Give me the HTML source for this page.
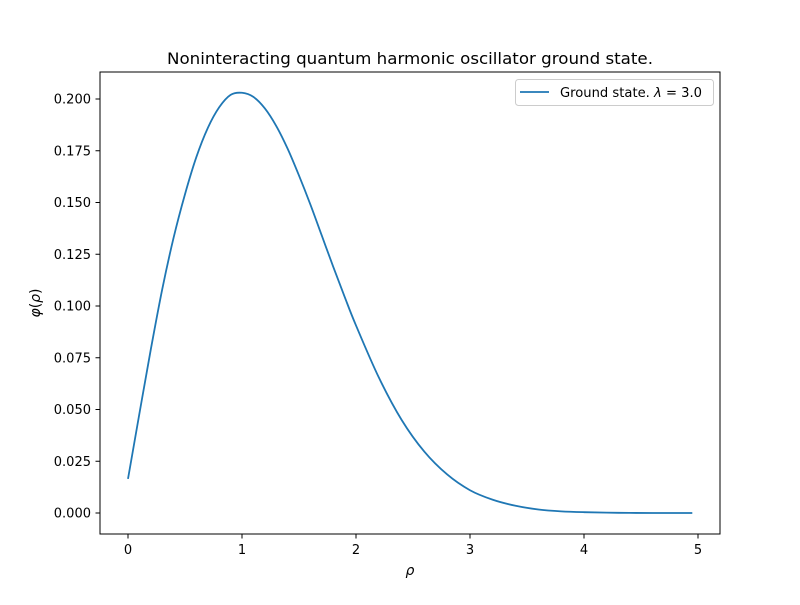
<!DOCTYPE html>
<html><head><meta charset="utf-8"><style>
body{margin:0;background:#fff;}
svg text{font-family:"DejaVu Sans","Liberation Sans",sans-serif;}
</style></head><body>
<svg id="chart" width="800" height="600" xmlns="http://www.w3.org/2000/svg">
<rect width="800" height="600" fill="#fff"/>
<text x="410" y="64" font-size="16" text-anchor="middle" textLength="486" lengthAdjust="spacingAndGlyphs">Noninteracting quantum harmonic oscillator ground state.</text>
<g id="ticks"></g>
<path id="curve" fill="none" stroke="#1f77b4" stroke-width="1.8"/>
<rect x="100" y="72" width="620" height="462" fill="none" stroke="#000" stroke-width="1"/>
<text x="410" y="575" font-size="14" font-style="italic" text-anchor="middle">ρ</text>
<text x="40" y="303" font-size="14" text-anchor="middle" transform="rotate(-90 40 303)"><tspan font-style="italic">φ</tspan>(<tspan font-style="italic">ρ</tspan>)</text>
<g>
<rect x="515.5" y="79.5" width="198" height="26" rx="3" fill="#fff" stroke="#ccc"/>
<line x1="520" y1="92" x2="549" y2="92" stroke="#1f77b4" stroke-width="1.8"/>
<text x="560" y="97" font-size="13.5" textLength="142" lengthAdjust="spacingAndGlyphs">Ground state. <tspan font-style="italic">λ</tspan> = 3.0</text>
</g>
</svg>
<script>
const rhoValues=[0,0.1,0.2,0.3,0.4,0.5,0.6,0.7,0.8,0.9,1.0,1.1,1.2,1.3,1.4,1.5,1.6,1.7,1.8,1.9,2.0,2.2,2.4,2.6,2.8,3.0,3.2,3.4,3.6,3.8,4.0,4.3,4.6,4.95];
const phiValues=[0.0165,0.048,0.079,0.108,0.133,0.154,0.172,0.186,0.196,0.202,0.203,0.201,0.1955,0.187,0.176,0.163,0.149,0.134,0.119,0.1045,0.0906,0.0655,0.045,0.0296,0.0186,0.011,0.0064,0.0035,0.0017,0.0008,0.0004,0.0001,0,0];
const xTicks=[0,1,2,3,4,5];
const yTicks=[0,0.025,0.05,0.075,0.1,0.125,0.15,0.175,0.2];
const xs=v=>128+v*114;
const ys=v=>513-v*2070;
const g=document.getElementById('ticks');
const NS='http://www.w3.org/2000/svg';
function mk(t,a){const e=document.createElementNS(NS,t);for(const k in a)e.setAttribute(k,a[k]);return e;}
xTicks.forEach(t=>{
 const l=mk('line',{x1:xs(t),x2:xs(t),y1:534,y2:538.5,stroke:'#000'});
 
 
 g.appendChild(l);
 const tx=mk('text',{x:xs(t),y:554,'font-size':'13','text-anchor':'middle'});
 tx.textContent=t;
 
 
 g.appendChild(tx);
});
yTicks.forEach(t=>{
 const l=mk('line',{x1:95.5,x2:100,y1:ys(t),y2:ys(t),stroke:'#000'});
 
 
 g.appendChild(l);
 const tx=mk('text',{x:91,y:ys(t)+4.5,'font-size':'13','text-anchor':'end'});
 tx.textContent=t.toFixed(3);
 
 
 g.appendChild(tx);
});
const p=rhoValues.map((r,i)=>[xs(r),ys(phiValues[i])]);
let d='M'+p[0][0]+','+p[0][1];
for(let i=0;i<p.length-1;i++){
 const p0=p[Math.max(0,i-1)],p1=p[i],p2=p[i+1],p3=p[Math.min(p.length-1,i+2)];
 const c1x=p1[0]+(p2[0]-p0[0])/6,c1y=p1[1]+(p2[1]-p0[1])/6;
 const c2x=p2[0]-(p3[0]-p1[0])/6,c2y=p2[1]-(p3[1]-p1[1])/6;
 d+=` C${c1x},${c1y} ${c2x},${c2y} ${p2[0]},${p2[1]}`;
}
document.getElementById('curve').setAttribute('d',d);
</script>
</body></html>
